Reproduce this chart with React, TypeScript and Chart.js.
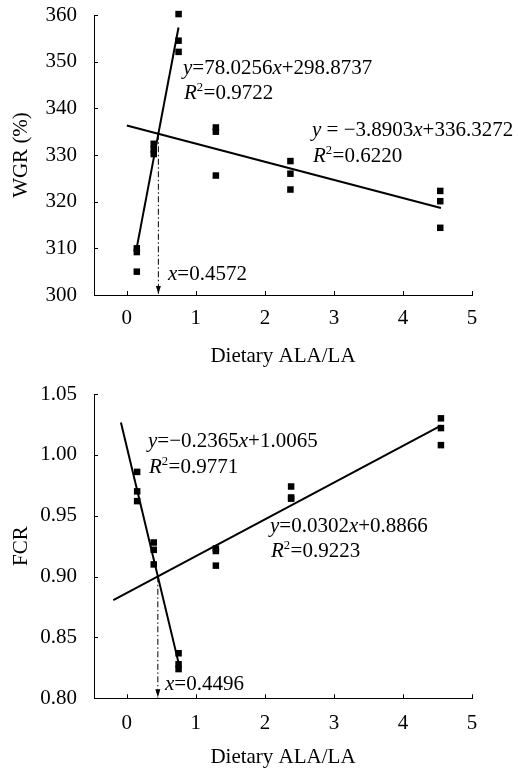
import React, { useEffect, useRef } from "react";
import { Chart, registerables } from "chart.js";
Chart.register(...registerables);

const FONT = "'Liberation Serif', 'Times New Roman', serif";

// ---- data ----
const xTicks = [0, 1, 2, 3, 4, 5];
const wgrTicks = [300, 310, 320, 330, 340, 350, 360];
const fcrTicks = [0.8, 0.85, 0.9, 0.95, 1.0, 1.05];

const wgrX = [0.145, 0.145, 0.145, 0.39, 0.39, 0.39, 0.75, 0.75, 0.75, 1.29, 1.29, 1.29, 2.37, 2.37, 2.37, 4.54, 4.54, 4.54];
const wgrY = [310.0, 309.2, 305.0, 332.4, 331.2, 330.2, 360.2, 354.5, 352.1, 335.9, 335.0, 325.6, 328.7, 326.0, 322.6, 322.3, 320.1, 314.4];

const fcrX = [0.15, 0.15, 0.15, 0.39, 0.39, 0.39, 0.75, 0.75, 0.75, 1.29, 1.29, 1.29, 2.38, 2.38, 2.38, 4.55, 4.55, 4.55];
const fcrY = [0.986, 0.970, 0.962, 0.928, 0.922, 0.910, 0.837, 0.828, 0.824, 0.923, 0.921, 0.909, 0.974, 0.965, 0.964, 1.030, 1.022, 1.008];

// fitted lines (endpoints from the printed equations)
const wgrFit1X = [0.135, 0.749];
const wgrFit1Y = [309.41, 357.32];
const wgrFit2X = [0.0, 4.55];
const wgrFit2Y = [336.33, 318.63];
const wgrDropX = [0.4572, 0.4572];
const wgrDropY = [334.55, 300.0];

const fcrFit1X = [-0.085, 0.75];
const fcrFit1Y = [1.0266, 0.8291];
const fcrFit2X = [-0.195, 4.55];
const fcrFit2Y = [0.8807, 1.0240];
const fcrDropX = [0.4496, 0.4496];
const fcrDropY = [0.9002, 0.8];

type Piece = { t: string; it?: boolean; sup?: boolean };
type Label = { x: number; y: number; pieces: Piece[] };

const wgrLabels: Label[] = [
  { x: 183, y: 74, pieces: [{ t: "y", it: true }, { t: "=78.0256" }, { t: "x", it: true }, { t: "+298.8737" }] },
  { x: 184, y: 99, pieces: [{ t: "R", it: true }, { t: "2", sup: true }, { t: "=0.9722" }] },
  { x: 312, y: 136, pieces: [{ t: "y", it: true }, { t: " = \u22123.8903" }, { t: "x", it: true }, { t: "+336.3272" }] },
  { x: 313, y: 162, pieces: [{ t: "R", it: true }, { t: "2", sup: true }, { t: "=0.6220" }] },
  { x: 168, y: 280, pieces: [{ t: "x", it: true }, { t: "=0.4572" }] },
];

const fcrLabels: Label[] = [
  { x: 148, y: 67, pieces: [{ t: "y", it: true }, { t: "=\u22120.2365" }, { t: "x", it: true }, { t: "+1.0065" }] },
  { x: 149, y: 93, pieces: [{ t: "R", it: true }, { t: "2", sup: true }, { t: "=0.9771" }] },
  { x: 270, y: 152, pieces: [{ t: "y", it: true }, { t: "=0.0302" }, { t: "x", it: true }, { t: "+0.8866" }] },
  { x: 271, y: 177, pieces: [{ t: "R", it: true }, { t: "2", sup: true }, { t: "=0.9223" }] },
  { x: 165, y: 310, pieces: [{ t: "x", it: true }, { t: "=0.4496" }] },
];

const zip = (xs: number[], ys: number[]) => xs.map((x, i) => ({ x, y: ys[i] }));

const richText = {
  id: "richText",
  afterDatasetsDraw(chart: any, _a: any, opts: any) {
    const ctx = chart.ctx;
    const size = opts.size || 21;
    ctx.save();
    ctx.fillStyle = "#000";
    ctx.textBaseline = "alphabetic";
    ctx.textAlign = "left";
    for (const lab of opts.labels || []) {
      let x = lab.x;
      for (const p of lab.pieces) {
        const fs = p.sup ? size * 0.6 : size;
        ctx.font = `${p.it ? "italic " : ""}${fs}px ${FONT}`;
        const dy = p.sup ? -size * 0.38 : 0;
        ctx.fillText(p.t, x, lab.y + dy);
        x += ctx.measureText(p.t).width + (p.sup ? 0.5 : 0);
      }
    }
    ctx.restore();
  },
};

const innerTicks = {
  id: "innerTicks",
  afterDraw(chart: any) {
    const xs = chart.scales.x;
    const ys = chart.scales.y;
    const ctx = chart.ctx;
    const len = 4;
    ctx.save();
    ctx.strokeStyle = "#000";
    ctx.lineWidth = 1;
    ctx.beginPath();
    for (const t of xs.ticks) {
      const px = Math.round(xs.getPixelForValue(t.value)) + 0.5;
      ctx.moveTo(px, ys.bottom);
      ctx.lineTo(px, ys.bottom - len);
    }
    for (const t of ys.ticks) {
      const py = Math.round(ys.getPixelForValue(t.value)) + 0.5;
      ctx.moveTo(xs.left, py);
      ctx.lineTo(xs.left + len, py);
    }
    ctx.stroke();
    // arrows on drop lines
    chart.data.datasets.forEach((ds: any, i: number) => {
      if (!ds.arrow) return;
      const meta = chart.getDatasetMeta(i);
      const pt = meta.data[meta.data.length - 1];
      if (!pt) return;
      ctx.fillStyle = "#000";
      ctx.beginPath();
      ctx.moveTo(pt.x, pt.y - 1);
      ctx.lineTo(pt.x - 2.5, pt.y - 9);
      ctx.lineTo(pt.x + 2.5, pt.y - 9);
      ctx.closePath();
      ctx.fill();
    });
    ctx.restore();
  },
};

function makeChart(
  canvas: HTMLCanvasElement,
  p: {
    ptsX: number[]; ptsY: number[];
    f1X: number[]; f1Y: number[]; f2X: number[]; f2Y: number[];
    dX: number[]; dY: number[];
    yTicks: number[]; yMin: number; yMax: number; yTitle: string; yDec: number;
    padTop: number; xH: number; titlePadB: number; xTickPad: number;
    labels: Label[];
  }
) {
  const lineDs = (xs: number[], ys: number[]) => ({
    type: "line" as const,
    data: zip(xs, ys),
    borderColor: "#000",
    borderWidth: 2,
    pointRadius: 0,
    fill: false,
    clip: false as any,
  });
  return new Chart(canvas, {
    type: "scatter",
    data: {
      datasets: [
        {
          type: "scatter",
          data: zip(p.ptsX, p.ptsY),
          pointStyle: "rect",
          pointRadius: 4.6,
          backgroundColor: "#000",
          borderColor: "#000",
          borderWidth: 0,
          clip: false as any,
        },
        lineDs(p.f1X, p.f1Y),
        lineDs(p.f2X, p.f2Y),
        {
          type: "line",
          data: zip(p.dX, p.dY),
          borderColor: "#000",
          borderWidth: 1,
          borderDash: [6, 2.5, 1.5, 2.5],
          pointRadius: 0,
          fill: false,
          clip: false as any,
          arrow: true,
        } as any,
      ],
    },
    options: {
      animation: false,
      responsive: false,
      devicePixelRatio: 1,
      layout: { padding: { left: 0, right: 46, top: p.padTop, bottom: 0 } },
      plugins: {
        legend: { display: false },
        tooltip: { enabled: false },
        richText: { labels: p.labels, size: 21 },
      } as any,
      scales: {
        x: {
          type: "linear",
          min: -0.475,
          max: 5,
          afterBuildTicks: (s: any) => {
            s.ticks = xTicks.map((v) => ({ value: v }));
          },
          afterFit: (s: any) => {
            s.height = p.xH;
            s.paddingLeft = 0;
            s.paddingRight = 0;
          },
          grid: { display: false, drawTicks: false },
          border: { display: true, color: "#000", width: 1 },
          ticks: {
            color: "#000",
            font: { family: FONT, size: 21 },
            padding: p.xTickPad,
            maxRotation: 0,
            callback: (v: any) => String(v),
          },
          title: {
            display: true,
            text: "Dietary ALA/LA",
            color: "#000",
            font: { family: FONT, size: 21 },
            padding: { top: 0, bottom: p.titlePadB },
          },
        },
        y: {
          type: "linear",
          min: p.yMin,
          max: p.yMax,
          afterBuildTicks: (s: any) => {
            s.ticks = p.yTicks.map((v) => ({ value: v }));
          },
          afterFit: (s: any) => {
            s.width = 94;
            s.paddingTop = 0;
            s.paddingBottom = 0;
          },
          grid: { display: false, drawTicks: false },
          border: { display: true, color: "#000", width: 1 },
          ticks: {
            color: "#000",
            font: { family: FONT, size: 21 },
            padding: 17,
            callback: (v: any) => Number(v).toFixed(p.yDec),
          },
          title: {
            display: true,
            text: p.yTitle,
            color: "#000",
            font: { family: FONT, size: 21 },
            padding: { top: 9, bottom: 0 },
          },
        },
      },
    },
    plugins: [richText, innerTicks],
  });
}

export default function App() {
  const c1 = useRef<HTMLCanvasElement>(null);
  const c2 = useRef<HTMLCanvasElement>(null);
  useEffect(() => {
    const a = makeChart(c1.current!, {
      ptsX: wgrX, ptsY: wgrY,
      f1X: wgrFit1X, f1Y: wgrFit1Y, f2X: wgrFit2X, f2Y: wgrFit2Y,
      dX: wgrDropX, dY: wgrDropY,
      yTicks: wgrTicks, yMin: 300, yMax: 360, yTitle: "WGR (%)", yDec: 0,
      padTop: 15, xH: 85, titlePadB: 11.4, xTickPad: 11,
      labels: wgrLabels,
    });
    const b = makeChart(c2.current!, {
      ptsX: fcrX, ptsY: fcrY,
      f1X: fcrFit1X, f1Y: fcrFit1Y, f2X: fcrFit2X, f2Y: fcrFit2Y,
      dX: fcrDropX, dY: fcrDropY,
      yTicks: fcrTicks, yMin: 0.8, yMax: 1.05, yTitle: "FCR", yDec: 2,
      padTop: 14, xH: 71.7, titlePadB: 0, xTickPad: 13,
      labels: fcrLabels,
    });
    return () => {
      a.destroy();
      b.destroy();
    };
  }, []);
  return (
    <div style={{ position: "absolute", left: 0, top: 0, width: 518, height: 770, background: "#fff" }}>
      <canvas ref={c1} width={518} height={380} style={{ display: "block", width: 518, height: 380 }} />
      <canvas ref={c2} width={518} height={390} style={{ display: "block", width: 518, height: 390 }} />
    </div>
  );
}
